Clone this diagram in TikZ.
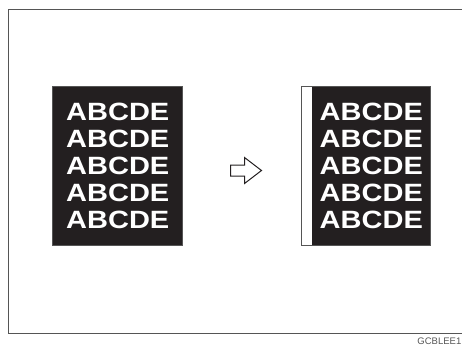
\documentclass[tikz,border=0pt]{standalone}
\usepackage{fontspec}
\setmainfont{Liberation Sans}
\definecolor{ink}{HTML}{231F20}
\definecolor{edge}{HTML}{555555}
\begin{document}
\begin{tikzpicture}[x=1pt,y=-1pt,
  txt/.style={text=white,font=\fontsize{25}{25}\selectfont\bfseries,xscale=1.16,inner sep=0pt,anchor=base},
  page/.style={fill=ink,draw=edge,line width=0.8pt}]
\useasboundingbox (0,0) rectangle (462,345);
% frame
\draw[edge,line width=0.9pt] (480,9) -- (8.5,9) -- (8.5,333) -- (480,333);
% left document
\node[page,minimum width=130pt,minimum height=159.5pt,inner sep=0pt,anchor=north west] (docA) at (52.3,85.7) {};
% right document
\node[page,minimum width=129.6pt,minimum height=159.5pt,inner sep=0pt,anchor=north west] (docB) at (300.7,85.7) {};
\node[fill=white,minimum width=10.5pt,minimum height=158pt,inner sep=0pt,anchor=north west] (strip) at (301.3,86.4) {};
\foreach \i in {0,...,4}{
  \node[txt] (a\i) at (117.8,{120.5+27.05*\i}) {ABCDE};
  \node[txt] (b\i) at (371.3,{120.5+27.05*\i}) {ABCDE};
}
% arrow
\draw[line width=1pt,draw=ink,fill=white,line join=miter] (230.5,165) -- (244.5,165) -- (244.5,157.5) -- (261.5,170.5) -- (244.5,183.5) -- (244.5,176) -- (230.5,176) -- cycle;
\node[font=\fontsize{9.5}{9.5}\selectfont,text=edge,anchor=base east,inner sep=0pt] (code) at (461.5,344) {GCBLEE1};
\end{tikzpicture}
\end{document}
